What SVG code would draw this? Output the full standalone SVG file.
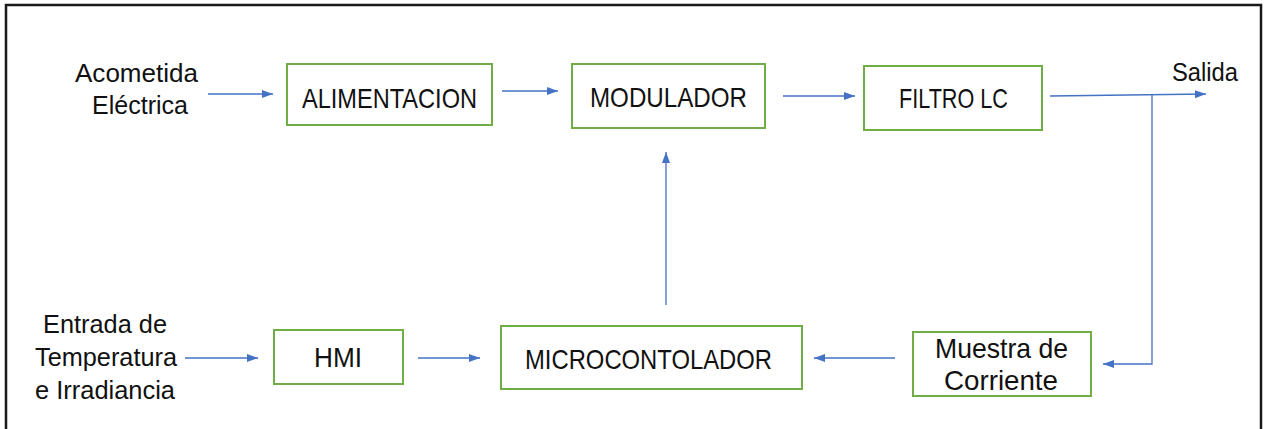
<svg xmlns="http://www.w3.org/2000/svg" width="1264" height="429" viewBox="0 0 1264 429">
  <style>
    .frame { fill: #ffffff; stroke: #1a1a1a; stroke-width: 2.5; }
    .box { fill: #ffffff; stroke: #70ad47; stroke-width: 2; }
    .lbl { font-family: "Liberation Sans", Arial, sans-serif; font-size: 26px; fill: #111111; }
    .blbl { font-family: "Liberation Sans", Arial, sans-serif; font-size: 28px; fill: #111111; }
    .wire { fill: none; stroke: #4472c4; stroke-width: 1.3; }
  </style>
  <defs>
    <marker id="head" markerUnits="userSpaceOnUse" markerWidth="12" markerHeight="9" refX="11" refY="4.5" orient="auto">
      <path d="M0,0.5 L11,4.5 L0,8.5 z" fill="#4472c4"/>
    </marker>
  </defs>

  <!-- outer frame -->
  <rect class="frame" x="6" y="5" width="1255" height="440"/>

  <!-- free-standing labels -->
  <g id="acometida">
    <text class="lbl" x="75" y="82" textLength="123" lengthAdjust="spacingAndGlyphs">Acometida</text>
    <text class="lbl" x="92" y="114" textLength="96" lengthAdjust="spacingAndGlyphs">Eléctrica</text>
  </g>
  <g id="entrada">
    <text class="lbl" x="43" y="333" textLength="124" lengthAdjust="spacingAndGlyphs">Entrada de</text>
    <text class="lbl" x="35" y="366" textLength="142" lengthAdjust="spacingAndGlyphs">Temperatura</text>
    <text class="lbl" x="35" y="399" textLength="140" lengthAdjust="spacingAndGlyphs">e Irradiancia</text>
  </g>
  <g id="salida">
    <text class="lbl" x="1172" y="81" textLength="66" lengthAdjust="spacingAndGlyphs">Salida</text>
  </g>

  <!-- blocks -->
  <g id="alimentacion">
    <rect class="box" x="287" y="64" width="205" height="61"/>
    <text class="blbl" x="302" y="108" textLength="175" lengthAdjust="spacingAndGlyphs">ALIMENTACION</text>
  </g>
  <g id="modulador">
    <rect class="box" x="572" y="64" width="193" height="64"/>
    <text class="blbl" x="590" y="107" textLength="157" lengthAdjust="spacingAndGlyphs">MODULADOR</text>
  </g>
  <g id="filtro">
    <rect class="box" x="864" y="66" width="178" height="64"/>
    <text class="blbl" x="899" y="108" textLength="109" lengthAdjust="spacingAndGlyphs">FILTRO LC</text>
  </g>
  <g id="hmi">
    <rect class="box" x="274" y="330" width="129" height="54"/>
    <text class="blbl" x="314" y="367" textLength="48" lengthAdjust="spacingAndGlyphs">HMI</text>
  </g>
  <g id="microcontolador">
    <rect class="box" x="501" y="326" width="301" height="63"/>
    <text class="blbl" x="525" y="369" textLength="247" lengthAdjust="spacingAndGlyphs">MICROCONTOLADOR</text>
  </g>
  <g id="muestra">
    <rect class="box" x="913" y="332" width="178" height="64"/>
    <text class="blbl" x="935" y="358" textLength="133" lengthAdjust="spacingAndGlyphs">Muestra de</text>
    <text class="blbl" x="944" y="390" textLength="114" lengthAdjust="spacingAndGlyphs">Corriente</text>
  </g>

  <!-- connectors -->
  <g id="connectors">
    <line class="wire" x1="208" y1="94" x2="273" y2="94" marker-end="url(#head)"/>
    <line class="wire" x1="502" y1="91" x2="558" y2="91" marker-end="url(#head)"/>
    <line class="wire" x1="783" y1="96" x2="855" y2="96" marker-end="url(#head)"/>
    <line class="wire" x1="1050" y1="96" x2="1206" y2="94" marker-end="url(#head)"/>
    <polyline class="wire" points="1152,94 1152,364 1103,364" marker-end="url(#head)"/>
    <line class="wire" x1="895" y1="358" x2="814" y2="358" marker-end="url(#head)"/>
    <line class="wire" x1="185" y1="358" x2="258" y2="358" marker-end="url(#head)"/>
    <line class="wire" x1="418" y1="358" x2="480" y2="358" marker-end="url(#head)"/>
    <line class="wire" x1="666" y1="305" x2="666" y2="152" marker-end="url(#head)"/>
  </g>
</svg>
